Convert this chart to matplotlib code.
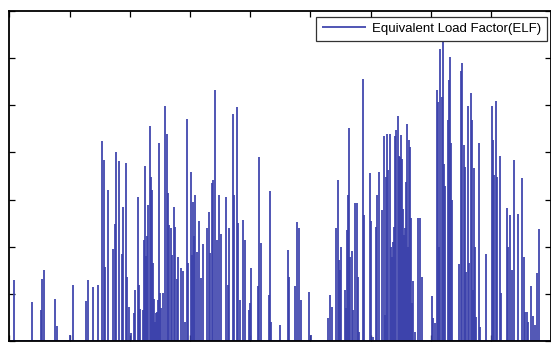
import matplotlib
matplotlib.use("Agg")
import matplotlib.pyplot as plt
import numpy as np

plt.rcParams['font.family'] = ['Liberation Sans', 'DejaVu Sans']

# spike positions (time index) and ELF values
t = [5, 23, 32, 33, 35, 46, 48, 60, 63, 76, 78, 83, 88, 92, 94, 95, 98, 103, 105, 106,
     109, 112, 113, 116, 117, 119, 121, 124, 125, 128, 129, 130, 133, 134, 135, 136, 137,
     138, 140, 141, 142, 143, 144, 145, 146, 147, 148, 149, 150, 151, 153, 155, 157, 158,
     159, 161, 162, 164, 165, 167, 168, 171, 173, 175, 177, 178, 181, 182, 183, 184, 185,
     187, 189, 191, 193, 197, 199, 200, 202, 203, 205, 207, 209, 211, 216, 218, 219, 223,
     224, 227, 228, 230, 233, 235, 239, 240, 241, 248, 249, 251, 259, 260, 261, 270, 278,
     279, 285, 287, 289, 291, 299, 301, 318, 320, 322, 325, 327, 328, 329, 330, 334, 335,
     336, 337, 338, 339, 341, 342, 344, 346, 347, 348, 352, 353, 359, 360, 362, 365, 366,
     368, 371, 373, 374, 375, 376, 377, 379, 380, 381, 382, 383, 384, 385, 387, 388, 389,
     390, 391, 392, 393, 394, 395, 396, 397, 398, 399, 400, 401, 402, 404, 407, 409, 411,
     421, 422, 424, 426, 427, 428, 429, 431, 432, 433, 434, 437, 438, 439, 440, 441, 448,
     450, 451, 453, 454, 455, 457, 458, 460, 461, 462, 463, 464, 465, 468, 469, 475, 481,
     482, 483, 485, 486, 489, 490, 496, 497, 499, 501, 503, 507, 511, 513, 514, 516, 517,
     520, 522, 524, 526, 528]
elf = [6.5, 4.1, 3.3, 6.6, 7.5, 4.5, 1.6, 0.6, 5.9, 4.2, 6.5, 5.7, 5.9, 21.2, 19.2, 7.9, 16.0, 9.8, 12.4, 20.0,
       19.1, 9.2, 14.2, 18.9, 6.8, 3.6, 0.8, 3.0, 5.4, 15.3, 5.9, 3.4, 3.3, 10.7, 18.6, 9.0, 11.1,
       14.4, 22.8, 17.4, 16.0, 8.3, 4.5, 2.0, 3.0, 3.1, 4.3, 21.0, 5.1, 3.5, 5.1, 24.9, 22.0, 15.7,
       12.3, 12.0, 9.1, 14.2, 12.1, 6.6, 8.9, 7.7, 7.4, 2.0, 23.5, 8.3, 17.9, 9.1, 14.7, 11.1, 15.5,
       9.4, 12.7, 6.7, 10.3, 12.0, 13.7, 9.3, 16.8, 17.1, 26.6, 10.7, 15.5, 11.4, 15.3, 5.9, 12.0, 24.1,
       15.5, 24.8, 12.5, 4.3, 12.8, 10.7, 3.3, 4.0, 7.7, 5.8, 19.5, 10.4, 4.9, 15.9, 2.0, 1.7, 9.6,
       6.8, 5.8, 12.6, 12.0, 4.4, 5.2, 0.6, 2.4, 4.9, 3.6, 12.0, 17.1, 8.6, 7.5, 10.0, 5.4, 3.5,
       11.8, 15.5, 22.6, 8.9, 9.5, 3.3, 14.6, 14.6, 6.8, 1.0, 27.8, 13.4, 17.8, 12.7, 0.4, 12.1, 15.5,
       17.9, 13.9, 21.7, 2.8, 17.4, 22.0, 18.1, 22.0, 10.0, 8.9, 10.5, 12.1, 21.7, 22.4, 23.9, 19.6, 19.5,
       21.8, 19.3, 14.0, 11.2, 12.0, 16.9, 23.0, 10.0, 21.3, 20.6, 13.0, 4.0, 6.4, 1.0, 13.0, 13.0, 6.8,
       4.8, 2.4, 1.9, 26.6, 25.4, 10.0, 31.0, 25.9, 31.7, 18.8, 16.4, 23.4, 27.7, 30.1, 21.0, 15.0, 8.2,
       28.6, 29.5, 20.8, 18.5, 7.3, 24.9, 8.3, 26.3, 23.4, 5.4, 18.3, 10.0, 2.5, 21.0, 1.5, 9.2, 24.9,
       21.3, 17.6, 25.5, 17.4, 19.6, 5.1, 14.1, 10.0, 13.4, 7.5, 19.2, 13.5, 17.3, 8.9, 3.1, 3.1, 2.0,
       5.8, 2.7, 1.7, 7.2, 11.9]

blue = '#3a40ab'

fig = plt.figure(figsize=(5.51, 3.43), dpi=100)
ax = fig.add_axes([9.3 / 551, 2 / 343, 542 / 551, 330 / 343])

ax.vlines(t, 0, elf, colors=blue, linewidth=1.25, label='Equivalent Load Factor(ELF)')
ax.axhline(0, color=blue, linewidth=1.2)

ax.set_xlim(0, 540)
ax.set_ylim(0, 35)
ax.set_xticks(np.arange(0, 541, 60))
ax.set_yticks(np.arange(0, 36, 5))
ax.tick_params(direction='in', length=4.5, width=0.9, top=True, right=True,
               labelbottom=False, labelleft=False)
for s in ax.spines.values():
    s.set_linewidth(1.3)

leg = ax.legend(loc='upper right', bbox_to_anchor=(0.992, 0.982), borderaxespad=0,
                fontsize=9.5, frameon=True, fancybox=False, edgecolor='black',
                handlelength=3.3, borderpad=0.45, handletextpad=0.45)
leg.get_frame().set_linewidth(0.9)

fig.savefig('out.png', dpi=100)
